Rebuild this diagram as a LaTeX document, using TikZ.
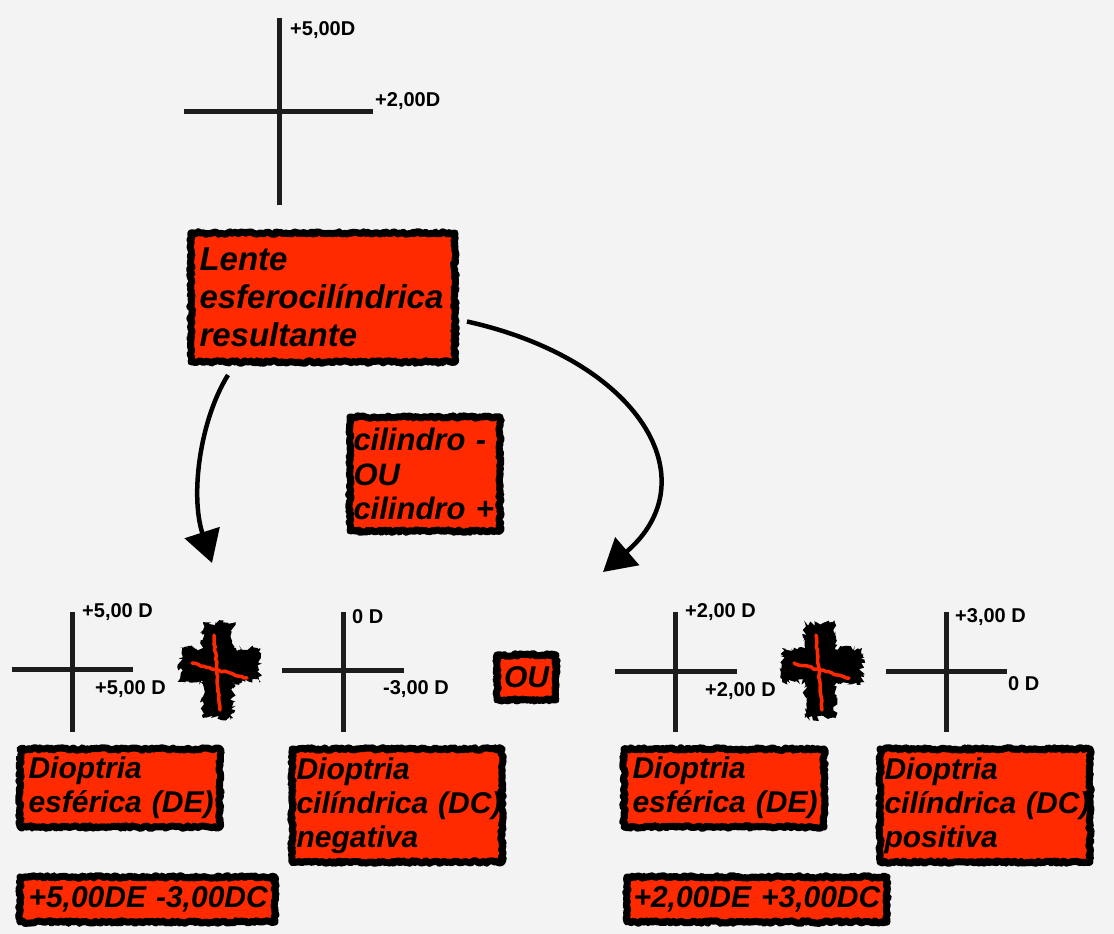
\documentclass[tikz,border=0pt]{standalone}
\usepackage{fontspec}
\setmainfont{Liberation Sans}
\usetikzlibrary{arrows.meta,decorations.pathmorphing}
\definecolor{boxred}{RGB}{255,42,0}
\definecolor{ink}{RGB}{28,28,28}
\definecolor{paper}{RGB}{243,243,243}
\begin{document}
\pgfmathsetseed{7}
\begin{tikzpicture}[x=1pt,y=-1pt,
  redbox/.style={fill=boxred, draw=black, line width=7pt, line join=round, decorate,
    decoration={random steps,segment length=2pt,amplitude=1.3pt},
    anchor=north west, align=left, inner ysep=2pt, text=black,
    font=\bfseries\itshape\fontsize{30}{34}\selectfont},
  axisline/.style={draw=ink, line width=5pt},
  lab/.style={anchor=west, inner sep=0pt, text=black, font=\bfseries\fontsize{20}{22}\selectfont},
  sketch/.style={draw=black, line width=4.5pt, -{Triangle[length=32pt,width=36pt]}},
  plussign/.pic={
    \fill[black, decorate, decoration={random steps,segment length=2pt,amplitude=3pt}]
      (-15,-42) -- (15,-42) -- (15,-17) -- (42,-17) -- (42,17) -- (15,17) -- (15,53)
      -- (-15,53) -- (-15,17) -- (-38,17) -- (-38,-17) -- (-15,-17) -- cycle;
    \draw[boxred, line width=3.5pt, line cap=round, line join=round, decorate, decoration={random steps,segment length=3pt,amplitude=0.8pt}] (-4,-30) -- (2,45);
    \draw[boxred, line width=3.5pt, line cap=round, line join=round, decorate, decoration={random steps,segment length=3pt,amplitude=0.8pt}] (-26,-2) -- (29,13);
  }
]
\fill[paper] (0,0) rectangle (1114,934);
\useasboundingbox (0,0) rectangle (1114,934);

% top cross
\coordinate (t1) at (279,18); \coordinate (t2) at (279,205);
\coordinate (t3) at (184,111); \coordinate (t4) at (373,111);
\draw[axisline] (t1) -- (t2);
\draw[axisline] (t3) -- (t4);
\node[lab] (tl1) at (290,30) {+5,00D};
\node[lab] (tl2) at (375,101) {+2,00D};

% main box
\node[redbox, inner xsep=8.5pt, text width=247pt, minimum height=129pt,
  font=\bfseries\itshape\fontsize{33}{38}\selectfont] (lente) at (187.5,229.5)
  {Lente\\esferocilíndrica\\resultante};

\node[redbox, inner xsep=3.5pt, text width=143pt, minimum height=114pt,
  font=\bfseries\itshape\fontsize{31}{34.5}\selectfont] (cil) at (346.5,413.5)
  {\mbox{cilindro -}\\OU\\\mbox{cilindro +}};

% arrows
\coordinate (a1e) at (212,563);
\coordinate (a2e) at (603,572);
\draw[sketch] ([xshift=40.5pt,yshift=-9.5pt]lente.south west) .. controls (200,420) and (190,495) .. (a1e);
\draw[sketch] ([xshift=8.5pt,yshift=-24pt]lente.east) .. controls (640,360) and (710,480) .. (a2e);

% bottom left crosses
\coordinate (c1a) at (72,612); \coordinate (c1b) at (72,732);
\coordinate (c1c) at (12,669); \coordinate (c1d) at (133,669);
\draw[axisline] (c1a) -- (c1b); \draw[axisline] (c1c) -- (c1d);
\node[lab] (l1a) at (82,612) {+5,00 D};
\node[lab] (l1b) at (95,689) {+5,00 D};

\pic at (218,665) {plussign};

\coordinate (c2a) at (343,612); \coordinate (c2b) at (343,732);
\coordinate (c2c) at (282,670); \coordinate (c2d) at (404,670);
\draw[axisline] (c2a) -- (c2b); \draw[axisline] (c2c) -- (c2d);
\node[lab] (l2a) at (352,617) {0 D};
\node[lab] (l2b) at (383,689) {-3,00 D};

\node[redbox, inner xsep=0pt, minimum width=59pt, minimum height=45pt, align=center] (ou) at (493.5,651.5) {OU};

% bottom right crosses
\coordinate (c3a) at (675,612); \coordinate (c3b) at (675,732);
\coordinate (c3c) at (615,671); \coordinate (c3d) at (737,671);
\draw[axisline] (c3a) -- (c3b); \draw[axisline] (c3c) -- (c3d);
\node[lab] (l3a) at (685,612) {+2,00 D};
\node[lab] (l3b) at (705,691) {+2,00 D};

\pic at (820,665) {plussign};

\coordinate (c4a) at (946,612); \coordinate (c4b) at (946,732);
\coordinate (c4c) at (886,671); \coordinate (c4d) at (1007,671);
\draw[axisline] (c4a) -- (c4b); \draw[axisline] (c4c) -- (c4d);
\node[lab] (l4a) at (955,617) {+3,00 D};
\node[lab] (l4b) at (1008,684) {0 D};

% label boxes
\node[redbox, inner xsep=8.5pt, text width=183pt, minimum height=78pt] (de1) at (16.5,745.5)
  {Dioptria\\\mbox{esférica (DE)}};
\node[redbox, inner xsep=4.5pt, text width=201pt, minimum height=113pt] (dc1) at (288.5,745.5)
  {Dioptria\\\mbox{cilíndrica (DC)}\\negativa};
\node[redbox, inner xsep=8.5pt, text width=183pt, minimum height=78pt] (de2) at (620.5,745.5)
  {Dioptria\\\mbox{esférica (DE)}};
\node[redbox, inner xsep=4.5pt, text width=201pt, minimum height=113pt] (dc2) at (876.5,745.5)
  {Dioptria\\\mbox{cilíndrica (DC)}\\positiva};

\node[redbox, inner xsep=8.5pt, text width=238pt, minimum height=45pt] (r1) at (16.5,873.5)
  {\mbox{+5,00DE -3,00DC}};
\node[redbox, inner xsep=6.5pt, text width=247pt, minimum height=45pt] (r2) at (623.5,873.5)
  {\mbox{+2,00DE +3,00DC}};
\end{tikzpicture}
\end{document}
